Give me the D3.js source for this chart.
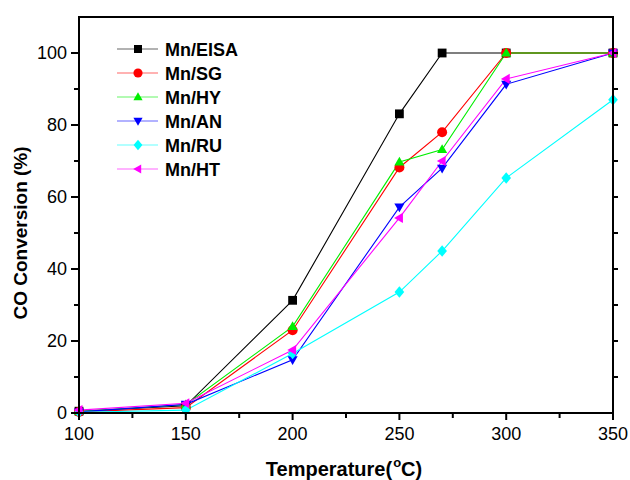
<!DOCTYPE html>
<html>
<head>
<meta charset="utf-8">
<script src="https://cdn.jsdelivr.net/npm/d3@7"></script>
<style>
  html, body { margin: 0; padding: 0; background: #fff; }
  svg { display: block; font-family: Arial, "Liberation Sans", sans-serif; }
</style>
</head>
<body>
<svg id="chart" width="630" height="480"></svg>
<script>
// Temperatures (°C) at which CO conversion was measured
const temperatures = [100, 150, 200, 250, 270, 300, 350];

// CO conversion (%) for each catalyst
const seriesNames = ["Mn/EISA", "Mn/SG", "Mn/HY", "Mn/AN", "Mn/RU", "Mn/HT"];
const eisa = [0.5, 2.0, 31.3, 83.1, 100, 100, 100];
const sg   = [0.3, 1.5, 23.0, 68.2, 78.0, 100, 100];
const hy   = [0.5, 2.3, 24.0, 69.7, 73.2, 100, 100];
const an   = [0.3, 2.4, 14.8, 57.2, 68.0, 91.3, 100];
const ru   = [0.2, 0.8, 16.5, 33.6, 45.0, 65.3, 87.0];
const ht   = [0.8, 2.7, 17.5, 54.2, 70.0, 92.8, 100];

const xTicks = [100, 150, 200, 250, 300, 350];
const yTicks = [0, 20, 40, 60, 80, 100];

const seriesValues = [eisa, sg, hy, an, ru, ht];
const colors = ["#000000", "#ff0000", "#00ee00", "#0000ff", "#00ffff", "#ff00ff"];
const symbols = ["square", "circle", "triUp", "triDown", "diamond", "triLeft"];

const svg = d3.select("#chart");
const padL = 79, padR = 613, padT = 17, padB = 413;

const x = d3.scaleLinear().domain([100, 350]).range([padL, padR]);
const y = d3.scaleLinear().domain([0, 110]).range([padB, padT]);

// marker path generator
function markerPath(kind, s) {
  switch (kind) {
    case "square": return `M${-s},${-s}H${s}V${s}H${-s}Z`;
    case "circle": return d3.symbol(d3.symbolCircle, Math.PI * s * s * 1.3)();
    case "triUp": return `M0,${-s * 1.2}L${s * 1.15},${s * 0.8}L${-s * 1.15},${s * 0.8}Z`;
    case "triDown": return `M0,${s * 1.2}L${s * 1.15},${-s * 0.8}L${-s * 1.15},${-s * 0.8}Z`;
    case "triLeft": return `M${-s * 1.2},0L${s * 0.8},${-s * 1.15}L${s * 0.8},${s * 1.15}Z`;
    case "diamond": return `M0,${-s * 1.3}L${s * 1.1},0L0,${s * 1.3}L${-s * 1.1},0Z`;
  }
}

// series lines and markers
const line = d3.line().x((d, i) => x(temperatures[i])).y(d => y(d));
const plot = svg.append("g");
seriesValues.forEach((vals, k) => {
  plot.append("path")
    .attr("d", line(vals))
    .attr("fill", "none")
    .attr("stroke", colors[k])
    .attr("stroke-width", 1.1);
});
seriesValues.forEach((vals, k) => {
  plot.selectAll(null).data(vals).enter().append("path")
    .attr("d", markerPath(symbols[k], 4.4))
    .attr("transform", (d, i) => `translate(${x(temperatures[i])},${y(d)})`)
    .attr("fill", colors[k]);
});

// axes
const axisStyle = g => {
  g.select(".domain").attr("stroke-width", 2).attr("stroke", "#000");
  g.selectAll(".tick line").attr("stroke-width", 2).attr("stroke", "#000");
  g.selectAll("text").attr("font-size", 18).attr("fill", "#000")
    .attr("font-family", "Arial, 'Liberation Sans', sans-serif");
};

// minor ticks
const xMinor = d3.range(125, 350, 50);
const yMinor = d3.range(10, 110, 20);

svg.append("g").attr("transform", `translate(0,${padB})`)
  .call(d3.axisBottom(x).tickValues(xTicks).tickFormat(d3.format("d")).tickSize(7).tickPadding(7).tickSizeOuter(0).offset(0))
  .call(axisStyle);
svg.append("g").attr("transform", `translate(0,${padB})`)
  .call(d3.axisBottom(x).tickValues(xMinor).tickFormat("").tickSize(5).tickSizeOuter(0).offset(0))
  .call(axisStyle);

svg.append("g").attr("transform", `translate(${padL},0)`)
  .call(d3.axisLeft(y).tickValues(yTicks).tickFormat(d3.format("d")).tickSize(8).tickPadding(4).tickSizeOuter(0).offset(0))
  .call(axisStyle);
svg.append("g").attr("transform", `translate(${padL},0)`)
  .call(d3.axisLeft(y).tickValues(yMinor).tickFormat("").tickSize(5).tickSizeOuter(0).offset(0))
  .call(axisStyle);

svg.append("g").attr("transform", `translate(${padR},0)`)
  .call(d3.axisRight(y).tickValues(d3.range(10, 110, 10)).tickFormat("").tickSize(5).tickSizeOuter(0).offset(0))
  .call(axisStyle);

svg.append("line")
  .attr("x1", padL - 1).attr("x2", padR + 1)
  .attr("y1", padT).attr("y2", padT)
  .attr("stroke", "#000").attr("stroke-width", 2);

// axis titles
svg.append("text")
  .attr("transform", `translate(27,${(padT + padB) / 2 + 18}) rotate(-90)`)
  .attr("text-anchor", "middle")
  .attr("font-weight", "bold").attr("font-size", 19)
  .text("CO Conversion (%)");

const xt = svg.append("text")
  .attr("x", (padL + padR) / 2 - 2).attr("y", 476)
  .attr("text-anchor", "middle")
  .attr("font-weight", "bold").attr("font-size", 20);
xt.append("tspan").text("Temperature(");
xt.append("tspan").attr("font-size", 13).attr("dy", -9).attr("dx", 1).text("o");
xt.append("tspan").attr("dy", 9).text("C)");

// legend
const legend = svg.append("g");
seriesNames.forEach((name, k) => {
  const ly = 49 + k * 24;
  legend.append("line")
    .attr("x1", 117).attr("x2", 158).attr("y1", ly).attr("y2", ly)
    .attr("stroke", colors[k]).attr("stroke-width", 1.2).attr("stroke-opacity", 0.6);
  legend.append("path")
    .attr("d", markerPath(symbols[k], 4))
    .attr("transform", `translate(138,${ly})`)
    .attr("fill", colors[k]);
  legend.append("text")
    .attr("x", 165).attr("y", ly + 6.5)
    .attr("font-weight", "bold").attr("font-size", 18)
    .text(name);
});
</script>
</body>
</html>
